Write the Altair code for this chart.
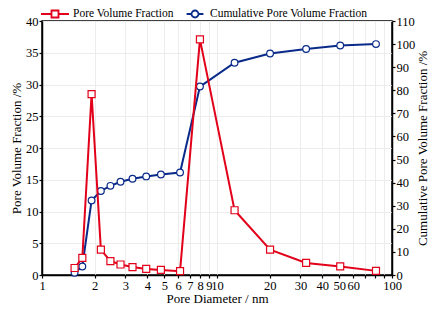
import altair as alt
import pandas as pd

# Pore diameter (nm) of each measured point
diameter = [1.535, 1.70, 1.92, 2.17, 2.46, 2.81, 3.29, 3.94, 4.78, 6.15,
            7.99, 12.6, 20.1, 32.3, 50.6, 81.0]
# Pore volume fraction (%)
pore_fraction = [1.1, 2.7, 28.5, 4.0, 2.2, 1.65, 1.25, 0.95, 0.8, 0.6,
                 37.1, 10.2, 4.0, 1.9, 1.35, 0.65]
# Cumulative pore volume fraction (%)
cumulative = [0.95, 3.7, 32.3, 36.4, 38.6, 40.4, 41.7, 42.7, 43.5, 44.4,
              81.6, 91.9, 95.9, 97.9, 99.4, 100.0]

x_ticks = [1, 2, 3, 4, 5, 6, 7, 8, 9, 10, 20, 30, 40, 50, 60, 70, 80, 90, 100]
left_ticks = [0, 5, 10, 15, 20, 25, 30, 35, 40]
right_ticks = [0, 10, 20, 30, 40, 50, 60, 70, 80, 90, 100, 110]

s1 = "Pore Volume Fraction"
s2 = "Cumulative Pore Volume Fraction"
RED = "#e2001a"
BLUE = "#0a2a8a"
FONT = "Liberation Serif"

df1 = pd.DataFrame({"d": diameter, "v": pore_fraction, "series": s1})
df2 = pd.DataFrame({"d": diameter, "v": cumulative, "series": s2})

x_enc = alt.X(
    "d:Q",
    scale=alt.Scale(type="log", domain=[1, 100], nice=False),
    axis=alt.Axis(
        values=x_ticks,
        title="Pore Diameter / nm",
        labelExpr="(datum.value==70||datum.value==80||datum.value==90) ? '' : format(datum.value,'d')",
        grid=True,
        titlePadding=1,
    ),
)

sq_path = "M-2,0H-0.5M0.5,0H2M-0.5,-0.5H0.5V0.5H-0.5Z"
ci_path = "M-1.2,0H-0.5M0.5,0H1.2M-0.5,0A0.5,0.5 0 1,0 0.5,0A0.5,0.5 0 1,0 -0.5,0Z"

leg1 = alt.Legend(title=None, orient="none", legendX=5, legendY=-15,
                  symbolType=sq_path, symbolSize=196, symbolStrokeWidth=1.8,
                  symbolFillColor="white", labelOffset=10, padding=0,
                  labelFont=FONT, labelFontSize=11.5, labelColor="black")
leg2 = alt.Legend(title=None, orient="none", legendX=145, legendY=-15,
                  symbolType=ci_path, symbolSize=196, symbolStrokeWidth=1.8,
                  symbolFillColor="white", labelOffset=7, padding=0,
                  labelFont=FONT, labelFontSize=11.5, labelColor="black")

y1 = alt.Y("v:Q", scale=alt.Scale(domain=[0, 40], nice=False),
           axis=alt.Axis(values=left_ticks, title="Pore Volume Fraction /%",
                         grid=True, titlePadding=2))
y2 = alt.Y("v:Q", scale=alt.Scale(domain=[0, 110], nice=False),
           axis=alt.Axis(values=right_ticks, orient="right",
                         title="Cumulative Pore Volume Fraction /%",
                         grid=False, titleAngle=270, titleBaseline="top",
                         titlePadding=2))

st1 = alt.Stroke("series:N", scale=alt.Scale(domain=[s1], range=[RED]), legend=leg1)
st2 = alt.Stroke("series:N", scale=alt.Scale(domain=[s2], range=[BLUE]), legend=leg2)

red = alt.layer(
    alt.Chart(df1).mark_line(strokeWidth=2).encode(x=x_enc, y=y1, stroke=st1),
    alt.Chart(df1).mark_point(shape="square", size=49, filled=True, fill="white",
                              strokeWidth=1.2, opacity=1).encode(x=x_enc, y=y1, stroke=st1),
)
blue = alt.layer(
    alt.Chart(df2).mark_line(strokeWidth=2).encode(x=x_enc, y=y2, stroke=st2),
    alt.Chart(df2).mark_point(shape="circle", size=45, filled=True, fill="white",
                              strokeWidth=1.2, opacity=1).encode(x=x_enc, y=y2, stroke=st2),
)

chart = alt.layer(blue, red).resolve_scale(y="independent", stroke="independent").properties(
    width=350, height=254,
    autosize=alt.AutoSizeParams(type="none"),
    padding={"left": 34, "top": 13, "right": 38, "bottom": 34},
).configure_view(
    stroke="black", strokeWidth=1.5
).configure_axis(
    labelFont=FONT, titleFont=FONT, labelFontSize=12.5, titleFontSize=13,
    titleFontWeight="normal", labelColor="black", titleColor="black",
    domainColor="black", domainWidth=1.5, tickColor="black", tickSize=3,
    tickWidth=1.2, gridColor="#ececec", gridWidth=1, labelPadding=1,
    labelFlush=False, labelOverlap=False,
)

chart.save("out.html", embed_options={"renderer": "svg", "actions": False})
